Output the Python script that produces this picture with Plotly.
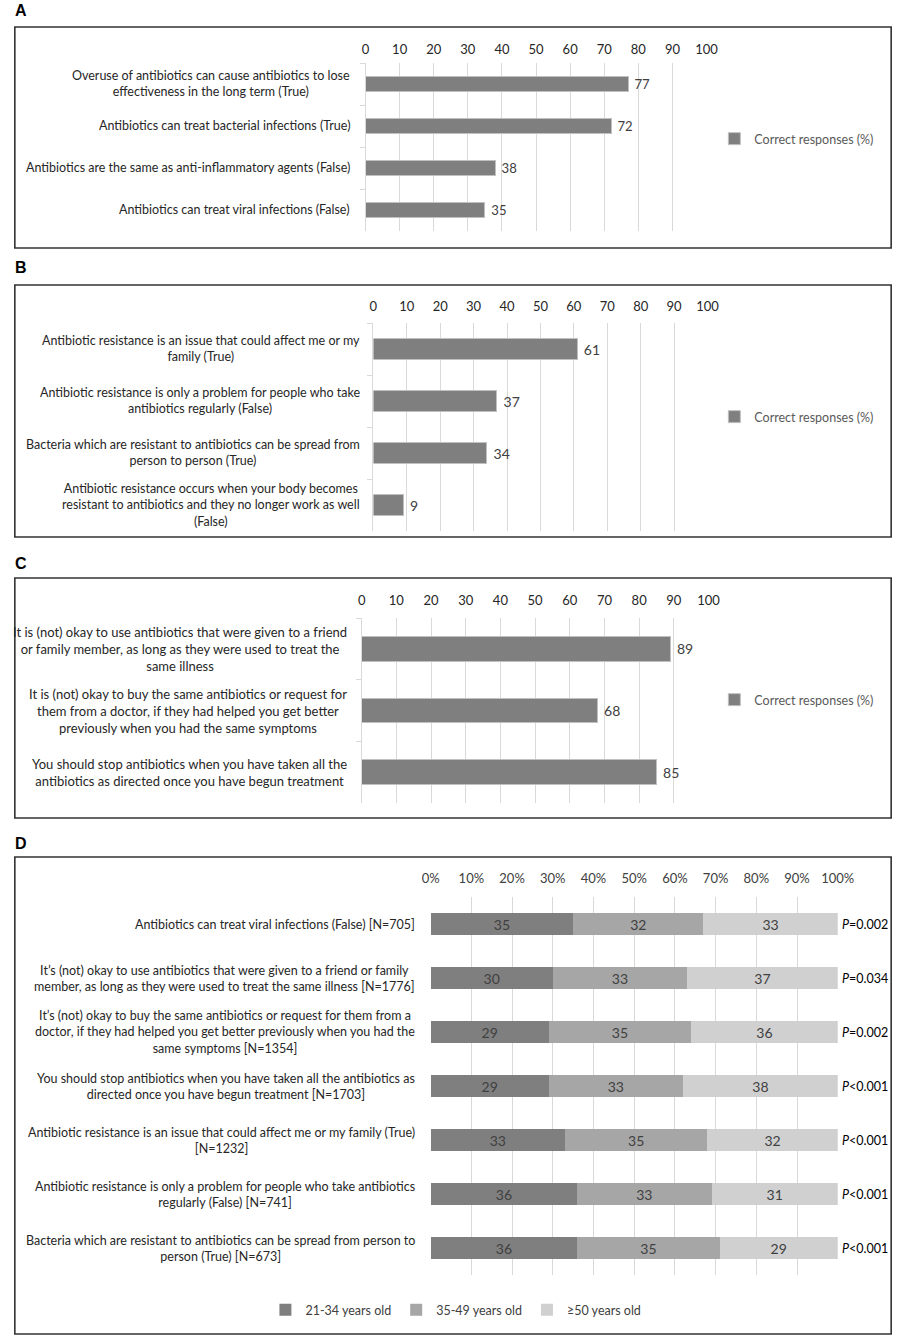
import plotly.graph_objects as go

# ---------------- data ----------------
A_labels = [
    "Overuse of antibiotics can cause antibiotics to lose<br>effectiveness in the long term (True)",
    "Antibiotics can treat bacterial infections (True)",
    "Antibiotics are the same as anti-inflammatory agents (False)",
    "Antibiotics can treat viral infections (False)",
]
A_values = [77, 72, 38, 35]

B_labels = [
    "Antibiotic resistance is an issue that could affect me or my<br>family (True)",
    "Antibiotic resistance is only a problem for people who take<br>antibiotics regularly (False)",
    "Bacteria which are resistant to antibiotics can be spread from<br>person to person (True)",
    "Antibiotic resistance occurs when your body becomes<br>resistant to antibiotics and they no longer work as well<br>(False)",
]
B_values = [61, 37, 34, 9]

C_labels = [
    "It is (not) okay to use antibiotics that were given to a friend<br>or family member, as long as they were used to treat the<br>same illness",
    "It is (not) okay to buy the same antibiotics or request for<br>them from a doctor, if they had helped you get better<br>previously when you had the same symptoms",
    "You should stop antibiotics when you have taken all the<br>antibiotics as directed once you have begun treatment",
]
C_values = [89, 68, 85]

series_name = "Correct responses (%)"

D_labels = [
    "Antibiotics can treat viral infections (False) [N=705]",
    "It’s (not) okay to use antibiotics that were given to a friend or family<br>member, as long as they were used to treat the same illness [N=1776]",
    "It’s (not) okay to buy the same antibiotics or request for them from a<br>doctor, if they had helped you get better previously when you had the<br>same symptoms [N=1354]",
    "You should stop antibiotics when you have taken all the antibiotics as<br>directed once you have begun treatment [N=1703]",
    "Antibiotic resistance is an issue that could affect me or my family (True)<br>[N=1232]",
    "Antibiotic resistance is only a problem for people who take antibiotics<br>regularly (False) [N=741]",
    "Bacteria which are resistant to antibiotics can be spread from person to<br>person (True) [N=673]",
]
D_series = ["21-34 years old", "35-49 years old", "≥50 years old"]
D_21_34 = [35, 30, 29, 29, 33, 36, 36]
D_35_49 = [32, 33, 35, 33, 35, 33, 35]
D_50plus = [33, 37, 36, 38, 32, 31, 29]
D_pvalues = ["=0.002", "=0.034", "=0.002", "<0.001", "<0.001", "<0.001", "<0.001"]

x_ticks = [0, 10, 20, 30, 40, 50, 60, 70, 80, 90, 100]
x_ticks_pct = [str(v) + "%" for v in x_ticks]

# ---------------- layout helpers ----------------
W, H = 914, 1339
def PX(v):
    return v / W
def PY(v):
    return 1 - v / H

FONT = "Lato, 'Open Sans', sans-serif"
TXT = "#262626"
GRID = "#d9d9d9"
BAR = "#7f7f7f"
D_COLORS = ["#7f7f7f", "#a6a6a6", "#d0d0d0"]

fig = go.Figure()

panels = [
    # key, labels, values, x-domain px, y-domain px (top, bottom), label right px, font size, bar width, legend y, standoff
    ("", A_labels, A_values, (367, 718), (63, 231), 353, 12.5, 0.38, 139, 5),
    ("2", B_labels, B_values, (375, 719), (323, 531), 363, 12.5, 0.39, 417, 8),
    ("3", C_labels, C_values, (363, 720), (618, 803), 350, 13, 0.40, 700, 9),
]

annotations = []
for i, (k, labels, vals, xd, yd, lab_x, fs, bw, leg_y, so) in enumerate(panels):
    leg = "legend" + k
    fig.add_trace(go.Bar(
        x=vals, y=labels, orientation="h",
        xaxis="x" + k, yaxis="y" + k,
        marker=dict(color=BAR, line=dict(color="#c0c0c0", width=1)),
        width=bw, name=series_name, legend=leg, showlegend=True,
        text=vals, texttemplate=" %{x}", textposition="outside", cliponaxis=False,
        textfont=dict(family=FONT, size=14, color="#404040"),
        hoverinfo="x+y",
    ))
    fig.layout["xaxis" + k] = dict(
        domain=[PX(xd[0]), PX(xd[1])], anchor="y" + k, side="top",
        range=[0, 100], tickvals=x_ticks, showgrid=True, gridcolor=GRID,
        gridwidth=1, zeroline=False, showline=False, ticks="",
        ticklabelstandoff=so,
        tickfont=dict(family=FONT, size=13, color="#262626"), fixedrange=True,
    )
    fig.layout["yaxis" + k] = dict(
        domain=[PY(yd[1]), PY(yd[0])], anchor="x" + k, type="category",
        autorange="reversed", showticklabels=False, showgrid=False,
        showline=True, linecolor=GRID, linewidth=1, ticks="outside",
        tickson="boundaries", ticklen=5, tickcolor=GRID, zeroline=False,
        fixedrange=True,
    )
    fig.layout[leg] = dict(
        x=PX(726), y=PY(leg_y), xanchor="left", yanchor="middle",
        font=dict(family=FONT, size=12.5, color="#595959"),
        bgcolor="rgba(0,0,0,0)", borderwidth=0,
    )
    for lab in labels:
        annotations.append(dict(
            xref="paper", yref="y" + k, x=PX(lab_x), y=lab,
            xanchor="right", yanchor="middle", align="center",
            text=lab, showarrow=False,
            font=dict(family=FONT, size=fs, color=TXT),
        ))

# Panel D (stacked 100%)
for name, vals, col in zip(D_series, [D_21_34, D_35_49, D_50plus], D_COLORS):
    fig.add_trace(go.Bar(
        x=vals, y=D_labels, orientation="h", xaxis="x4", yaxis="y4",
        marker=dict(color=col, line=dict(width=0)), width=0.39,
        name=name, legend="legend4",
        text=vals, textposition="inside", insidetextanchor="middle",
        textangle=0, constraintext="none",
        textfont=dict(family=FONT, size=14, color="#404040"),
        hoverinfo="name+x",
    ))
fig.layout["xaxis4"] = dict(
    domain=[PX(434), PX(853)], anchor="y4", side="top", range=[0, 100],
    tickvals=x_ticks, ticktext=x_ticks_pct, showgrid=True, gridcolor=GRID,
    zeroline=False, showline=False, ticks="", ticklabelstandoff=10,
    tickfont=dict(family=FONT, size=13, color="#404040"), fixedrange=True,
)
fig.layout["yaxis4"] = dict(
    domain=[PY(1275), PY(897)], anchor="x4", type="category",
    autorange="reversed", showticklabels=False, showgrid=False,
    showline=False, ticks="", zeroline=False, fixedrange=True,
)
fig.layout["legend4"] = dict(
    orientation="h", x=PX(460), y=PY(1310), xanchor="center",
    yanchor="middle", traceorder="normal",
    font=dict(family=FONT, size=12.5, color="#404040"),
    bgcolor="rgba(0,0,0,0)", borderwidth=0,
)
for lab, p in zip(D_labels, D_pvalues):
    annotations.append(dict(
        xref="paper", yref="y4", x=PX(420), y=lab, xanchor="right",
        yanchor="middle", align="center", text=lab, showarrow=False,
        font=dict(family=FONT, size=12.5, color=TXT),
    ))
    annotations.append(dict(
        xref="paper", yref="y4", x=PX(855), y=lab, xanchor="left",
        yanchor="middle", text="<i>P</i>" + p, showarrow=False,
        font=dict(family=FONT, size=12.5, color="#000000"),
    ))

# panel letters
for letter, ypx in zip(["A", "B", "C", "D"], [11, 267, 563, 843]):
    annotations.append(dict(
        xref="paper", yref="paper", x=PX(4), y=PY(ypx), xanchor="left",
        yanchor="middle", text="<b>" + letter + "</b>", showarrow=False,
        font=dict(family="Liberation Sans, Arial, sans-serif", size=16, color="#000000"),
    ))

# panel frames
shapes = []
for top, bot in [(27, 248), (285, 537), (578, 818), (857, 1334)]:
    shapes.append(dict(
        type="rect", xref="paper", yref="paper",
        x0=PX(6), x1=PX(908), y0=PY(bot), y1=PY(top),
        line=dict(color="#333333", width=1.6), fillcolor="rgba(0,0,0,0)",
    ))

fig.update_layout(
    width=W, height=H, autosize=False,
    margin=dict(l=0, r=0, t=0, b=0, pad=0),
    paper_bgcolor="white", plot_bgcolor="white",
    barmode="stack", annotations=annotations, shapes=shapes,
    font=dict(family=FONT, color=TXT),
)

fig.write_html(
    "out.html",
    config={"displayModeBar": False, "responsive": False},
    post_script=(
        "document.documentElement.style.margin='0';"
        "document.documentElement.style.overflow='hidden';"
        "document.body.style.margin='0';"
        "document.body.style.overflow='hidden';"
    ),
)
